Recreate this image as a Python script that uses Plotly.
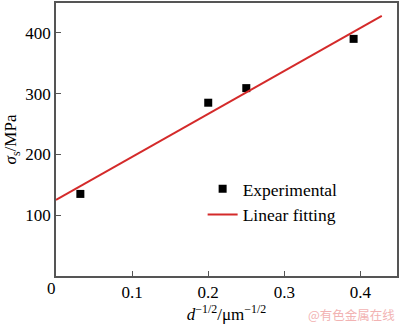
import plotly.graph_objects as go

# Data
exp_x = [0.032, 0.200, 0.250, 0.391]
exp_y = [135, 285, 309, 390]
fit_x = [0.0, 0.428]
fit_y = [125, 428]

x_ticks = [0.1, 0.2, 0.3, 0.4]
x_ticktext = ["0.1", "0.2", "0.3", "0.4"]
y_ticks = [100, 200, 300, 400]
y_ticktext = ["100", "200", "300", "400"]

serif = "Liberation Serif"

fig = go.Figure()
fig.add_trace(go.Scatter(
    x=exp_x, y=exp_y, mode="markers", name="Experimental",
    marker=dict(symbol="square", size=8, color="black"),
))
fig.add_trace(go.Scatter(
    x=fit_x, y=fit_y, mode="lines", name="Linear fitting",
    line=dict(color="#d42a2a", width=2),
))

axis_common = dict(
    showgrid=False, zeroline=False, showline=True, linecolor="#555555",
    linewidth=1.5, mirror=True, ticks="inside", ticklen=5, tickwidth=1,
    tickcolor="#555555", tickfont=dict(family=serif, size=17, color="black"),
)

fig.update_layout(
    width=400, height=324,
    margin=dict(l=56, r=1, t=1, b=48),
    paper_bgcolor="white", plot_bgcolor="white",
    showlegend=True,
    legend=dict(
        x=0.43, y=0.385, xanchor="left", yanchor="top",
        bgcolor="rgba(0,0,0,0)", borderwidth=0,
        font=dict(family=serif, size=17.5, color="black"),
        tracegroupgap=0, itemwidth=30,
    ),
    xaxis=dict(
        range=[0, 0.448], tickvals=x_ticks, ticktext=x_ticktext,
        title=dict(text="<i>d</i><sup>−1/2</sup>/μm<sup>−1/2</sup>",
                   font=dict(family=serif, size=17, color="black"), standoff=2),
        **axis_common,
    ),
    yaxis=dict(
        range=[0, 449], tickvals=y_ticks, ticktext=y_ticktext,
        title=dict(text="<i>σ</i><sub>s</sub>/MPa",
                   font=dict(family=serif, size=17, color="black"), standoff=4),
        **axis_common,
    ),
    annotations=[
        dict(x=0, y=0, xref="x", yref="y", text="0", showarrow=False,
             xanchor="center", yanchor="top", xshift=-5, yshift=-1,
             font=dict(family=serif, size=17, color="black")),
        dict(x=1, y=0, xref="paper", yref="paper", text="@有色金属在线",
             showarrow=False, xanchor="right", yanchor="top", yshift=-27,
             font=dict(family="Noto Sans CJK SC", size=12.5, color="#f2b3b3")),
    ],
)

fig.write_html("out.html")
